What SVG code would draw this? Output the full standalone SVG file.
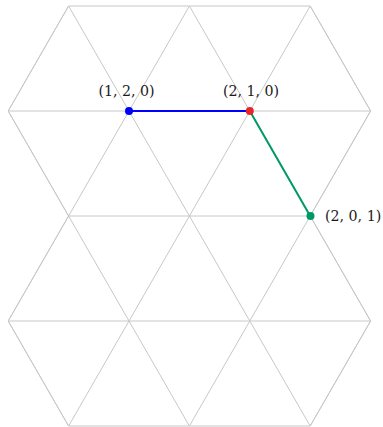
<svg xmlns="http://www.w3.org/2000/svg" width="383" height="427" viewBox="0 0 383 427">
<style>
.grid{fill:none;stroke:#c8c8c8;stroke-width:1}
.lbl{font-family:"DejaVu Serif","Liberation Serif",serif;font-size:14.2px;fill:#1a1a1a}
</style>
<rect width="383" height="427" fill="#fff"/>
<g id="grid" class="grid">
<path d="M68.6 6H310.2M8.2 111H370.6M68.6 216H310.2M8.2 321H370.6M68.6 426H310.2"/>
<path d="M68.6 6L8.2 111L68.6 216L8.2 321L68.6 426"/>
<path d="M310.2 6L370.6 111L310.2 216L370.6 321L310.2 426"/>
<path d="M68.6 6L310.2 426M189.4 6L370.6 321M310.2 6L370.6 111M8.2 111L189.4 426M8.2 321L68.6 426"/>
<path d="M310.2 6L68.6 426M189.4 6L8.2 321M68.6 6L8.2 111M370.6 111L189.4 426M370.6 321L310.2 426"/>
</g>
<g id="connectors" fill="none" stroke-width="2">
<line x1="129" y1="111" x2="249.8" y2="111" stroke="#0000ff"/>
<line x1="249.8" y1="111" x2="310.2" y2="216" stroke="#009966"/>
</g>
<g id="n120">
<circle cx="129" cy="111" r="4" fill="#0000ff"/>
<text class="lbl" x="126.5" y="96" text-anchor="middle">(1, 2, 0)</text>
</g>
<g id="n210">
<circle cx="249.8" cy="111" r="4" fill="#e8262a"/>
<text class="lbl" x="251" y="96" text-anchor="middle">(2, 1, 0)</text>
</g>
<g id="n201">
<circle cx="310.5" cy="216" r="4" fill="#009966"/>
<text class="lbl" x="325" y="220.5">(2, 0, 1)</text>
</g>
</svg>
